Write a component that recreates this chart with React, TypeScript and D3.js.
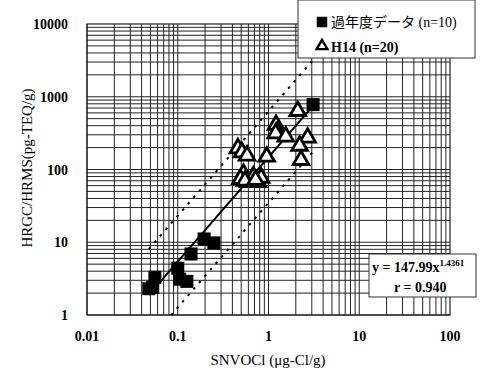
import { useEffect, useRef } from 'react';
import * as d3 from 'd3';

// 過年度データ (n=10)
const pastX = [0.048, 0.053, 0.056, 0.1, 0.105, 0.126, 0.14, 0.195, 0.25, 3.1];
const pastY = [2.3, 2.4, 3.3, 4.4, 3.1, 2.9, 6.9, 11.1, 9.8, 780];

// H14 (n=20)
const h14X = [2.1, 1.21, 1.25, 1.2, 1.55, 2.7, 2.2, 2.28, 0.46, 0.51, 0.58, 0.955, 0.53, 0.49, 0.6, 0.68, 0.77, 0.83, 0.55, 0.72];
const h14Y = [637, 410, 330, 314, 283, 274, 212, 135, 195, 172, 155, 150, 87, 74, 67, 80, 67, 77, 70, 72];

const xTicks = ['0.01', '0.1', '1', '10', '100'];
const yTicks = ['1', '10', '100', '1000', '10000'];

const fitCoef = 147.99;
const fitExp = 1.4361;
const fitRange = [0.048, 3.3];
const bandLog = 0.63;

const serif = '"Liberation Serif", "DejaVu Serif", "Noto Sans CJK JP", serif';

const App = () => {
  const svgRef = useRef(null);

  useEffect(() => {
    const width = 483;
    const height = 370;
    const left = 87, right = 450, top = 24, bottom = 315;

    const svg = d3.select(svgRef.current)
      .attr('width', width)
      .attr('height', height);
    svg.selectAll('*').remove();

    const x = d3.scaleLog().domain([0.01, 100]).range([left, right]);
    const y = d3.scaleLog().domain([1, 10000]).range([bottom, top]);

    svg.append('rect').attr('width', width).attr('height', height).attr('fill', 'white');

    // log grid
    const xGrid = [];
    for (let d = 0.01; d < 99; d *= 10) for (let k = 1; k <= 9; k++) xGrid.push(d * k);
    const yGrid = [];
    for (let d = 1; d < 9999; d *= 10) for (let k = 1; k <= 9; k++) yGrid.push(d * k);

    const grid = svg.append('g').attr('stroke', '#222').attr('stroke-width', 1);
    grid.selectAll('line.v').data(xGrid).join('line')
      .attr('x1', d => x(d)).attr('x2', d => x(d))
      .attr('y1', top).attr('y2', bottom);
    grid.selectAll('line.h').data(yGrid).join('line')
      .attr('x1', left).attr('x2', right)
      .attr('y1', d => y(d)).attr('y2', d => y(d));

    svg.append('rect')
      .attr('x', left).attr('y', top)
      .attr('width', right - left).attr('height', bottom - top)
      .attr('fill', 'none').attr('stroke', '#222').attr('stroke-width', 1.2);

    // tick labels
    svg.append('g').selectAll('text').data(xTicks).join('text')
      .attr('x', d => x(+d)).attr('y', 341)
      .attr('text-anchor', 'middle')
      .attr('font-family', serif).attr('font-size', 14).attr('font-weight', 'bold')
      .text(d => d);
    svg.append('g').selectAll('text').data(yTicks).join('text')
      .attr('x', 68).attr('y', d => y(+d) + 5)
      .attr('text-anchor', 'end')
      .attr('font-family', serif).attr('font-size', 14).attr('font-weight', 'bold')
      .text(d => d);

    svg.append('text')
      .attr('x', 268).attr('y', 365)
      .attr('text-anchor', 'middle')
      .attr('font-family', serif).attr('font-size', 15)
      .text('SNVOCl (μg-Cl/g)');
    svg.append('text')
      .attr('transform', 'translate(32,168) rotate(-90)')
      .attr('text-anchor', 'middle')
      .attr('font-family', serif).attr('font-size', 15)
      .text('HRGC/HRMS(pg-TEQ/g)');

    // regression and ±band
    const plot = svg.append('g');
    plot.append('clipPath').attr('id', 'clip')
      .append('rect').attr('x', left).attr('y', top).attr('width', right - left).attr('height', bottom - top);
    const xs = d3.range(0, 101).map(i => fitRange[0] * Math.pow(fitRange[1] / fitRange[0], i / 100));
    const line = off => d3.line()
      .x(d => x(d))
      .y(d => y(fitCoef * Math.pow(d, fitExp) * Math.pow(10, off)))(xs);

    const lines = plot.append('g').attr('clip-path', 'url(#clip)');
    [bandLog, -bandLog].forEach(off => {
      lines.append('path').attr('d', line(off))
        .attr('fill', 'none').attr('stroke', 'black').attr('stroke-width', 2)
        .attr('stroke-dasharray', '2.5,6');
    });
    lines.append('path').attr('d', line(0))
      .attr('fill', 'none').attr('stroke', 'black').attr('stroke-width', 2);

    // markers
    const past = pastX.map((v, i) => [v, pastY[i]]);
    const h14 = h14X.map((v, i) => [v, h14Y[i]]);

    const sq = d3.symbol().type(d3.symbolSquare).size(170);
    plot.append('g').selectAll('path').data(past).join('path')
      .attr('d', sq)
      .attr('transform', d => `translate(${x(d[0])},${y(d[1])})`)
      .attr('fill', 'black');

    const tri = d3.symbol().type(d3.symbolTriangle).size(105);
    plot.append('g').selectAll('path').data(h14).join('path')
      .attr('d', tri)
      .attr('transform', d => `translate(${x(d[0])},${y(d[1])})`)
      .attr('fill', 'white').attr('stroke', 'black').attr('stroke-width', 2.8)
      .attr('stroke-linejoin', 'miter');

    // legend
    const lg = svg.append('g');
    lg.append('rect').attr('x', 298).attr('y', 0).attr('width', 177).attr('height', 58)
      .attr('fill', 'white').attr('stroke', '#333').attr('stroke-width', 1);
    lg.append('path').attr('d', d3.symbol().type(d3.symbolSquare).size(110)())
      .attr('transform', 'translate(322,22)').attr('fill', 'black');
    lg.append('text').attr('x', 331).attr('y', 27)
      .attr('font-family', serif).attr('font-size', 14)
      .text('過年度データ (n=10)');
    lg.append('path').attr('d', d3.symbol().type(d3.symbolTriangle).size(50)())
      .attr('transform', 'translate(322,46)').attr('fill', 'white')
      .attr('stroke', 'black').attr('stroke-width', 2.4);
    lg.append('text').attr('x', 331).attr('y', 52)
      .attr('font-family', serif).attr('font-size', 14).attr('font-weight', 'bold')
      .text('H14 (n=20)');

    // equation box
    const eq = svg.append('g');
    eq.append('rect').attr('x', 369).attr('y', 254).attr('width', 107).attr('height', 43)
      .attr('fill', 'white').attr('stroke', '#333').attr('stroke-width', 1);
    const t1 = eq.append('text').attr('x', 372).attr('y', 272)
      .attr('font-family', serif).attr('font-size', 14).attr('font-weight', 'bold');
    t1.append('tspan').text(`y = ${fitCoef}x`);
    t1.append('tspan').attr('dy', -6).attr('font-size', 9).text(`${fitExp}`);
    eq.append('text').attr('x', 394).attr('y', 292)
      .attr('font-family', serif).attr('font-size', 14).attr('font-weight', 'bold')
      .text('r = 0.940');
  }, []);

  return <svg ref={svgRef} style={{ position: 'absolute', left: 0, top: 0, display: 'block' }}></svg>;
};

export default App;
